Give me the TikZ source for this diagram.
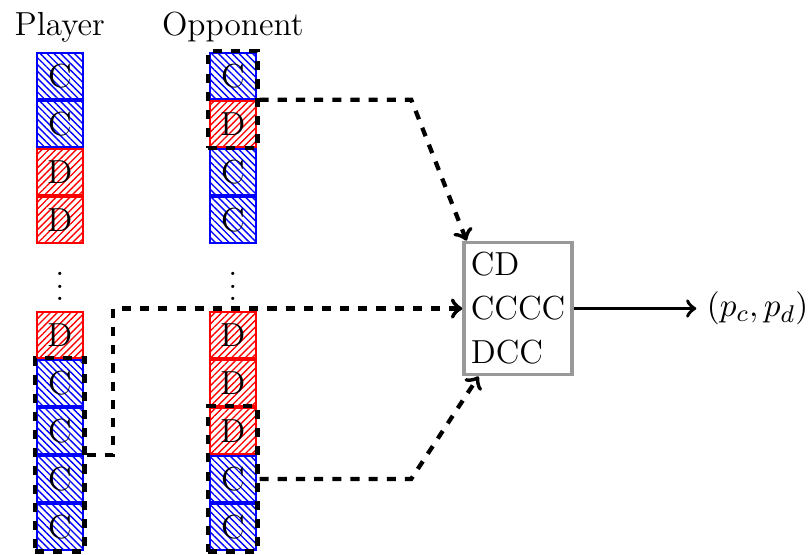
\documentclass[tikz,border=0pt]{standalone}
\usepackage{amsmath}
\usepackage{tikz}
\usetikzlibrary{matrix}
\usetikzlibrary{calc}
\usetikzlibrary{positioning}
\usetikzlibrary{fit}
\usetikzlibrary{patterns.meta}

\begin{document}
\begin{tikzpicture}[auto, >=to, font=\fontsize{11}{13.6}\selectfont]

    \tikzstyle{cellC} = [rectangle, anchor=center, draw=blue, semithick, minimum size=0.536cm, inner sep=0pt, pattern={Lines[angle=-45, distance=1.6pt, line width=0.45pt]}, pattern color=blue]
    \tikzstyle{cellD} = [rectangle, anchor=center, draw=red, semithick, minimum size=0.536cm, inner sep=0pt, pattern={Lines[angle=45, distance=1.6pt, line width=0.45pt]}, pattern color=red]
    \tikzstyle{dots} = [anchor=center, minimum height=0.777cm, inner sep=0pt, outer sep=0pt]
    \tikzstyle{lab} = [rectangle]
    \tikzstyle{grp} = [rectangle, draw=black, line width=1.4pt, dashed, inner sep=0.5pt]
    \tikzstyle{rulebox} = [rectangle, draw=black!40, very thick, align=left, minimum width=1.253cm, minimum height=1.45cm, inner xsep=1pt, font=\fontsize{11}{14.5}\selectfont]
    \tikzstyle{connector} = [->, very thick]
    \tikzstyle{dconn} = [->, line width=1.4pt, dashed]

    \useasboundingbox (0,0) rectangle (9.396,-6.438);

    % Sequences of moves (player and opponent) %%%%%%%%%%%%%%%%%%%%%%%%%%%%%%%%%%%%%%%%%%%
    \matrix[ampersand replacement=\&, row sep=0pt, column sep=1.45cm, inner sep=0pt, outer sep=0pt, anchor=north west] (seq) at (0.415,-0.600) {

      % first moves
      \node[cellC] (p1) {C}; \& \node[cellC] (o1) {C}; \\
      \node[cellC] (p2) {C}; \& \node[cellD] (o2) {D}; \\
      \node[cellD] (p3) {D}; \& \node[cellC] (o3) {C}; \\
      \node[cellD] (p4) {D}; \& \node[cellC] (o4) {C}; \\

      % gap
      \node[dots] (pd) {$\vdots$}; \& \node[dots] (od) {$\vdots$}; \\

      % last moves
      \node[cellD] (p5) {D}; \& \node[cellD] (o5) {D}; \\
      \node[cellC] (p6) {C}; \& \node[cellD] (o6) {D}; \\
      \node[cellC] (p7) {C}; \& \node[cellD] (o7) {D}; \\
      \node[cellC] (p8) {C}; \& \node[cellC] (o8) {C}; \\
      \node[cellC] (p9) {C}; \& \node[cellC] (o9) {C}; \\
    };

    \node [lab, above=0pt of p1] (lP) {Player};
    \node [lab, above=0pt of o1] (lO) {Opponent};

    % Groups of moves read by the strategy %%%%%%%%%%%%%%%%%%%%%%%%%%%%%%%%%%%%%%%%%%%%%%%
    \node [grp, fit=(o1)(o2)] (g1) {};
    \node [grp, fit=(p6)(p9)] (g2) {};
    \node [grp, fit=(o7)(o9)] (g3) {};

    \node [rulebox] (rule) at (6.009,-3.579) {CD\\CCCC\\DCC};
    \node [lab, right=1.42cm of rule] (out) {$(p_c, p_d)$};

    % Now link the nodes %%%%%%%%%%%%%%%%%%%%%%%%%%%%%%%%%%%%%%%%%%%%%%%%%%%%%%%%%%%%%%%%
    \draw [dconn] (g1.east) -- ++(1.76cm,0) -- ($(rule.north west) + (0.05cm,0)$);
    \draw [dconn] (g2.east) -- ++(0.31cm,0) |- (rule.west);
    \draw [dconn] (g3.east) -- ++(1.76cm,0) -- ($(rule.south west) + (0.19cm,0)$);
    \draw [connector] (rule) -- (out);

\end{tikzpicture}
\end{document}
